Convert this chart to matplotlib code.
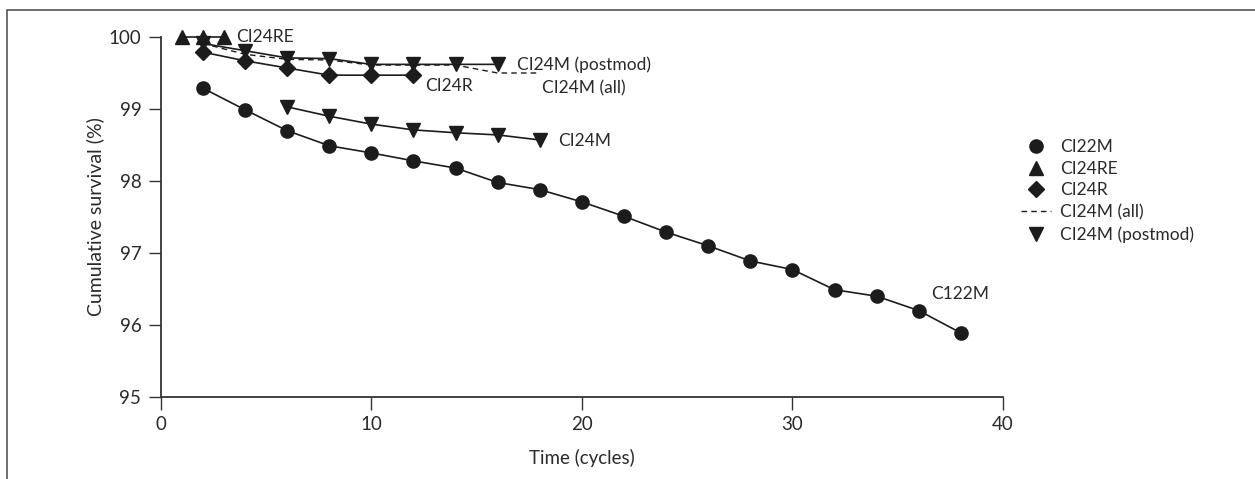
import matplotlib
matplotlib.use("Agg")
import matplotlib.pyplot as plt
from matplotlib.lines import Line2D
from matplotlib.patches import Rectangle

# Cumulative survival (%) per device
ci22m_x = [2, 4, 6, 8, 10, 12, 14, 16, 18, 20, 22, 24, 26, 28, 30, 32, 34, 36, 38]
ci22m_y = [99.29, 98.99, 98.70, 98.49, 98.39, 98.28, 98.18, 97.98, 97.88, 97.71,
           97.51, 97.29, 97.10, 96.89, 96.77, 96.49, 96.40, 96.20, 95.89]

ci24re_x = [1, 2, 3]
ci24re_y = [100.0, 100.0, 100.0]

ci24r_x = [2, 4, 6, 8, 10, 12]
ci24r_y = [99.79, 99.67, 99.57, 99.47, 99.47, 99.47]

ci24m_all_x = [2, 4, 6, 8, 10, 12, 14, 16, 18]
ci24m_all_y = [99.91, 99.76, 99.69, 99.68, 99.61, 99.61, 99.61, 99.50, 99.50]

ci24m_post_x = [2, 4, 6, 8, 10, 12, 14, 16]
ci24m_post_y = [99.91, 99.81, 99.71, 99.70, 99.62, 99.62, 99.62, 99.62]

ci24m_x = [6, 8, 10, 12, 14, 16, 18]
ci24m_y = [99.03, 98.90, 98.79, 98.71, 98.67, 98.64, 98.57]

legend_labels = ["CI22M", "CI24RE", "CI24R", "CI24M (all)", "CI24M (postmod)"]

plt.rcParams['font.family'] = ["Lato", "DejaVu Sans"]
ink = "#1c1c1c"
txt = "#2a2a2a"
fs = 12.5

fig = plt.figure(figsize=(12.55, 4.79), dpi=100)
fig.patches.append(Rectangle((7 / 1255, -0.1), 1.2, 1 - 10 / 479 + 0.1, transform=fig.transFigure,
                             fill=False, edgecolor="#555", linewidth=1.2))
ax = fig.add_axes([160.7 / 1255, 1 - 397 / 479, (1003 - 160.7) / 1255, (397 - 37) / 479])

line_kw = dict(color=ink, linewidth=1.2, clip_on=False)
ax.plot(ci24m_all_x, ci24m_all_y, linestyle=(0, (4, 3)), color=ink, linewidth=1.0, clip_on=False)
ax.plot(ci24m_post_x, ci24m_post_y, marker="v", markersize=9.5, **line_kw)
ax.plot(ci24r_x, ci24r_y, marker="D", markersize=8.5, **line_kw)
ax.plot(ci24re_x, ci24re_y, marker="^", markersize=9.5, **line_kw)
ax.plot(ci24m_x, ci24m_y, marker="v", markersize=9.5, **line_kw)
ax.plot(ci22m_x, ci22m_y, marker="o", markersize=9.5, **line_kw)

# Series labels next to the curves
ax.text(3.6, 100.0, "CI24RE", fontsize=fs, color=txt, va="center")
ax.text(16.9, 99.61, "CI24M (postmod)", fontsize=fs, color=txt, va="center")
ax.text(12.55, 99.32, "CI24R", fontsize=fs, color=txt, va="center")
ax.text(18.1, 99.28, "CI24M (all)", fontsize=fs, color=txt, va="center")
ax.text(18.85, 98.56, "CI24M", fontsize=fs, color=txt, va="center")
ax.text(36.6, 96.43, "C122M", fontsize=fs, color=txt, va="center")

ax.set_xlim(0, 40)
ax.set_ylim(95, 100)
ax.set_xticks([0, 10, 20, 30, 40])
ax.set_yticks([95, 96, 97, 98, 99, 100])
for side in ["top", "right"]:
    ax.spines[side].set_visible(False)
for side in ["left", "bottom"]:
    ax.spines[side].set_color("#333")
    ax.spines[side].set_linewidth(1.3)
ax.tick_params(direction="out", length=9, width=1.0, color="#333", labelsize=13.5,
               labelcolor=txt, pad=5)
ax.set_xlabel("Time (cycles)", fontsize=13.5, color=txt, labelpad=11)
ax.set_ylabel("Cumulative survival (%)", fontsize=14, color=txt, labelpad=3)

handles = [
    Line2D([], [], color=ink, marker="o", linestyle="none", markersize=9.5),
    Line2D([], [], color=ink, marker="^", linestyle="none", markersize=9.5),
    Line2D([], [], color=ink, marker="D", linestyle="none", markersize=8.5),
    Line2D([], [], color=ink, linestyle=(0, (4, 3)), linewidth=1.0),
    Line2D([], [], color=ink, marker="v", linestyle="none", markersize=9.5),
]
leg = fig.legend(handles, legend_labels, loc="upper left", bbox_to_anchor=(1021 / 1255, 1 - 139 / 479),
                 frameon=False, fontsize=fs, handlelength=1.7, handletextpad=0.55,
                 labelspacing=0.33, borderpad=0, borderaxespad=0)
for t in leg.get_texts():
    t.set_color(txt)

fig.savefig("out.png", dpi=100)
